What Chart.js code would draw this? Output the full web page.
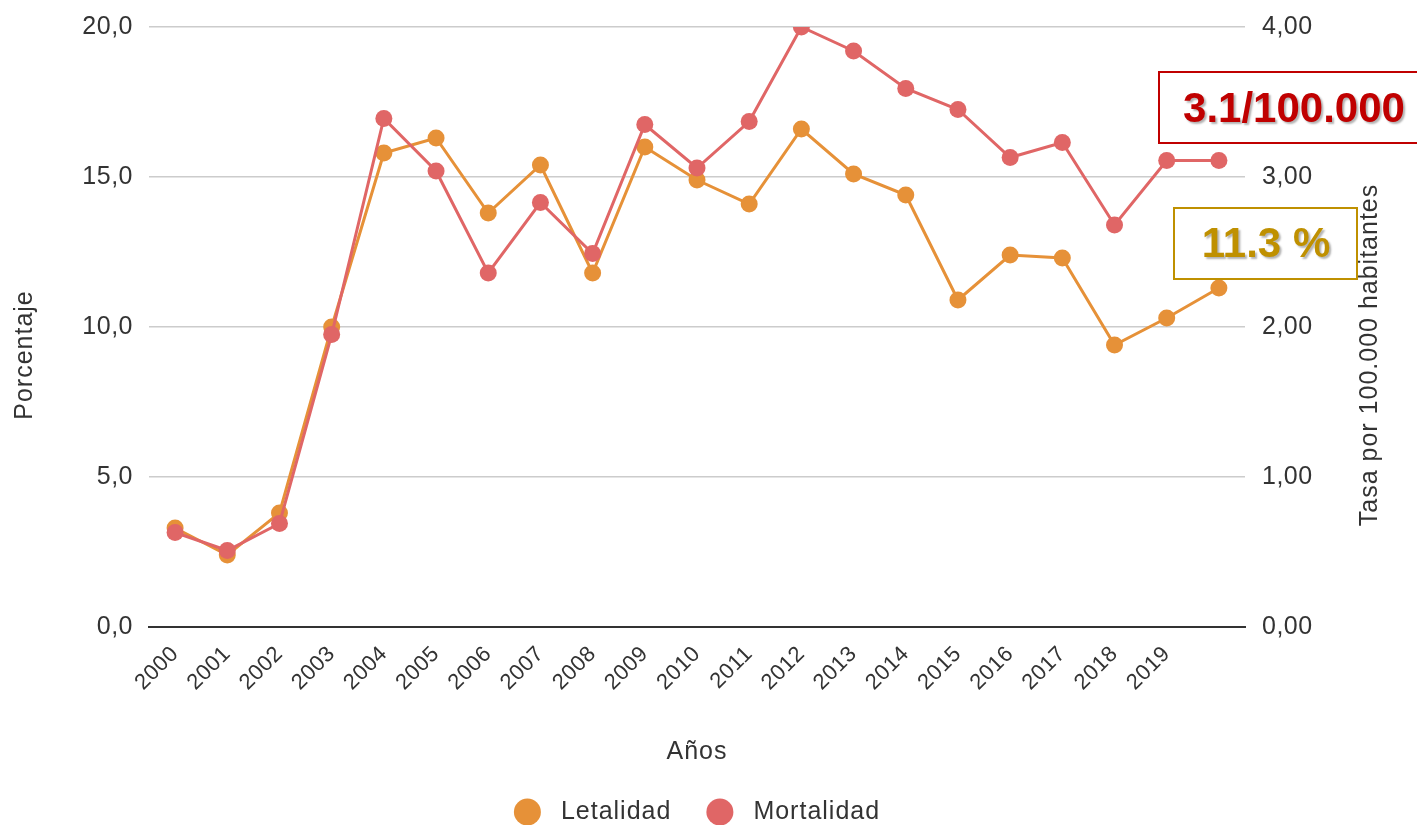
<!DOCTYPE html>
<html>
<head>
<meta charset="utf-8">
<script src="https://cdn.jsdelivr.net/npm/chart.js@4.4.1/dist/chart.umd.min.js"></script>
<style>
  html, body { margin: 0; padding: 0; background: #fff; overflow: hidden; }
</style>
</head>
<body>
<canvas id="chart" width="1417" height="825"></canvas>
<script>
// =====================
// Data
// =====================
const years = ['2000', '2001', '2002', '2003', '2004', '2005', '2006', '2007', '2008', '2009',
  '2010', '2011', '2012', '2013', '2014', '2015', '2016', '2017', '2018', '2019', ''];

// Letalidad (%) - left axis
const letalidad = [3.3, 2.4, 3.8, 10.0, 15.8, 16.3, 13.8, 15.4, 11.8, 16.0,
  14.9, 14.1, 16.6, 15.1, 14.4, 10.9, 12.4, 12.3, 9.4, 10.3, 11.3];

// Mortalidad (tasa por 100.000) - right axis
const mortalidad = [0.63, 0.51, 0.69, 1.95, 3.39, 3.04, 2.36, 2.83, 2.49, 3.35,
  3.06, 3.37, 4.00, 3.84, 3.59, 3.45, 3.13, 3.23, 2.68, 3.11, 3.11];

const seriesNames = ['Letalidad', 'Mortalidad'];
const seriesColors = ['#E69138', '#E06666'];

const FONT = "'Liberation Sans', Arial, sans-serif";
const TEXT = '#333';

// =====================
// Titles, legend and callout boxes
// =====================
const decorPlugin = {
  id: 'decor',
  beforeDraw(chart) {
    chart.ctx.letterSpacing = '0.5px';
  },
  afterDraw(chart) {
    const ctx = chart.ctx;
    const area = chart.chartArea;
    ctx.save();
    ctx.letterSpacing = '1px';
    ctx.fillStyle = TEXT;
    ctx.font = '25px ' + FONT;
    ctx.textAlign = 'center';
    ctx.textBaseline = 'middle';

    // axis titles
    ctx.fillText('Años', (area.left + area.right) / 2, 752);

    ctx.save();
    ctx.translate(25, 355);
    ctx.rotate(-Math.PI / 2);
    ctx.fillText('Porcentaje', 0, 0);
    ctx.restore();

    ctx.save();
    ctx.translate(1370, 355);
    ctx.rotate(-Math.PI / 2);
    ctx.fillText('Tasa por 100.000 habitantes', 0, 0);
    ctx.restore();

    // legend
    const r = 13.5, gapIn = 20, gapOut = 35, ly = 812;
    const widths = seriesNames.map(n => ctx.measureText(n).width);
    let total = 0;
    widths.forEach((w, i) => { total += 2 * r + gapIn + w + (i ? gapOut : 0); });
    let lx = (area.left + area.right) / 2 - total / 2;
    ctx.textAlign = 'left';
    seriesNames.forEach((n, i) => {
      if (i) lx += gapOut;
      ctx.fillStyle = seriesColors[i];
      ctx.beginPath();
      ctx.arc(lx + r, ly, r, 0, Math.PI * 2);
      ctx.fill();
      lx += 2 * r + gapIn;
      ctx.fillStyle = TEXT;
      ctx.fillText(n, lx, ly);
      lx += widths[i];
    });

    // callout boxes
    ctx.letterSpacing = '0px';
    const boxes = [
      { x: 1159, y: 72, w: 270, h: 71, color: '#C00000', text: '3.1/100.000', tx: 1294, ty: 110 },
      { x: 1174, y: 208, w: 183, h: 71, color: '#BF9000', text: '11.3 %', tx: 1266, ty: 245 }
    ];
    boxes.forEach(b => {
      ctx.fillStyle = '#fff';
      ctx.fillRect(b.x, b.y, b.w, b.h);
      ctx.strokeStyle = b.color;
      ctx.lineWidth = 2;
      ctx.strokeRect(b.x, b.y, b.w, b.h);
      ctx.save();
      ctx.font = 'bold 42px ' + FONT;
      ctx.textAlign = 'center';
      ctx.shadowColor = 'rgba(0,0,0,0.3)';
      ctx.shadowOffsetX = 2;
      ctx.shadowOffsetY = 2;
      ctx.shadowBlur = 2;
      ctx.fillStyle = b.color;
      ctx.fillText(b.text, b.tx, b.ty);
      ctx.restore();
    });
    ctx.restore();
  }
};

const comma = (v, d) => Number(v).toFixed(d).replace('.', ',');

// vertical axes: fixed width, no extra label padding above/below the plot
const fitY = w => scale => {
  scale.width = w;
  scale.paddingTop = 0;
  scale.paddingBottom = 0;
};

new Chart(document.getElementById('chart'), {
  type: 'line',
  data: {
    labels: years,
    datasets: [
      {
        label: seriesNames[0],
        data: letalidad,
        yAxisID: 'y',
        borderColor: seriesColors[0],
        backgroundColor: seriesColors[0],
        borderWidth: 3,
        pointRadius: 8.5,
        pointBorderWidth: 0,
        tension: 0,
        order: 1
      },
      {
        label: seriesNames[1],
        data: mortalidad,
        yAxisID: 'y1',
        borderColor: seriesColors[1],
        backgroundColor: seriesColors[1],
        borderWidth: 3,
        pointRadius: 8.5,
        pointBorderWidth: 0,
        tension: 0,
        order: 0
      }
    ]
  },
  options: {
    responsive: false,
    animation: false,
    layout: { padding: { top: 27, bottom: 0, left: 0, right: 0 } },
    plugins: {
      legend: { display: false },
      tooltip: { enabled: false }
    },
    scales: {
      x: {
        offset: true,
        grid: { display: false },
        border: { display: true, color: '#333', width: 2 },
        ticks: {
          autoSkip: false,
          minRotation: 45,
          maxRotation: 45,
          padding: 6,
          color: TEXT,
          font: { family: FONT, size: 22 }
        },
        afterFit(scale) { scale.height = 198; }
      },
      y: {
        position: 'left',
        min: 0,
        max: 20,
        ticks: {
          stepSize: 5,
          padding: 16,
          color: TEXT,
          font: { family: FONT, size: 25 },
          callback: v => comma(v, 1)
        },
        grid: { color: '#cccccc', lineWidth: 1.5, drawTicks: false },
        border: { display: false },
        afterFit: fitY(149)
      },
      y1: {
        position: 'right',
        min: 0,
        max: 4,
        ticks: {
          stepSize: 1,
          padding: 17,
          color: TEXT,
          font: { family: FONT, size: 25 },
          callback: v => comma(v, 2)
        },
        grid: { drawOnChartArea: false, drawTicks: false },
        border: { display: false },
        afterFit: fitY(172)
      }
    }
  },
  plugins: [decorPlugin]
});
</script>
</body>
</html>
